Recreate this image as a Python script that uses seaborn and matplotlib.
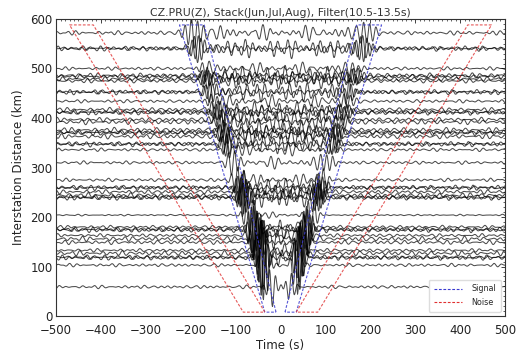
import numpy as np
import pandas as pd
import seaborn as sns
import matplotlib
matplotlib.use("Agg")
import matplotlib.pyplot as plt
from matplotlib.lines import Line2D
from matplotlib.ticker import MultipleLocator

# ---------------- data ----------------
title = "CZ.PRU(Z), Stack(Jun,Jul,Aug), Filter(10.5-13.5s)"
# interstation distances of the traces (km)
dist = [572, 540, 541, 500, 486, 484, 479, 475, 452, 453, 434, 417, 411, 412,
        397, 392, 376, 370, 371, 363, 347, 348, 336, 310, 275, 259, 260, 251,
        244, 239, 240, 204, 180, 174, 175, 163, 156, 149, 133, 127, 118, 119,
        103, 59]
# peak amplitude of the surface-wave packet on each trace (km on the plot)
sig_amp = [28, 24, 20, 12, 16, 14, 15, 14, 18, 16, 14, 16, 18, 16,
           16, 18, 20, 20, 18, 20, 22, 20, 18, 22, 28, 32, 30, 32,
           36, 38, 36, 40, 48, 52, 50, 52, 58, 58, 66, 78, 88, 80,
           60, 40]
# background noise amplitude on each trace (km on the plot)
noise_amp = [2.5, 3.0, 2.5, 2.0, 3.0, 2.5, 2.5, 2.5, 3.0, 2.5, 2.0, 2.5, 3.0, 2.5,
             2.5, 3.0, 3.0, 3.0, 2.5, 3.0, 3.0, 2.5, 2.0, 2.0, 2.0, 3.0, 2.5, 2.5,
             3.0, 3.0, 2.5, 1.0, 2.0, 3.0, 2.5, 2.0, 3.0, 2.5, 2.0, 3.0, 3.0, 2.5,
             2.0, 2.0]
group_velocity = 2.95                 # km/s, arrival of the main packet
signal_period = 14.0                  # s, dominant period of the packets
noise_periods = [13.5, 16.0, 19.0, 23.0]   # s, visible noise wiggles

# windows: edge times (s) at the nearest / farthest distance
win_dist = [8, 588]
sig_near = [10, 35]
sig_far = [170, 225]
noise_near = [35, 83]
noise_far = [417, 470]

t = np.arange(-500, 500.5, 1.0)

# ---------------- build traces ----------------
rows = []
golden = 0.6180339887
for i, (d, a, n) in enumerate(zip(dist, sig_amp, noise_amp)):
    tarr = d / group_velocity
    width = 11 + 0.02 * d
    noise = np.zeros_like(t)
    for k, P in enumerate(noise_periods):
        ph = 2 * np.pi * (((i + 1) * (k + 3) * golden) % 1.0)
        noise += np.cos(2 * np.pi * t / P + ph)
    noise /= np.sqrt(len(noise_periods))
    coda = 1.0 + 2.4 / (1 + np.exp((np.abs(t) - tarr) / 10))
    env_l = np.exp(-((t + tarr) / width) ** 2)
    env_r = np.exp(-((t - tarr) / width) ** 2)
    ph0 = 2 * np.pi * (((i + 1) * golden * 7) % 1.0)
    sig = a * env_l * np.cos(2 * np.pi * (t + tarr) / signal_period + ph0) \
        + 0.85 * a * env_r * np.cos(2 * np.pi * (t - tarr) / signal_period - ph0)
    y = d + sig + n * coda * noise
    rows.append(pd.DataFrame({"t": t, "y": y, "trace": i}))
df = pd.concat(rows, ignore_index=True)


def window(near, far, side):
    xs = [near[0], far[0], far[1], near[1], near[0]]
    ys = [win_dist[0], win_dist[1], win_dist[1], win_dist[0], win_dist[0]]
    return pd.DataFrame({"t": [side * x for x in xs], "y": ys, "part": side})


sig_df = pd.concat([window(sig_near, sig_far, -1), window(sig_near, sig_far, 1)])
noi_df = pd.concat([window(noise_near, noise_far, -1), window(noise_near, noise_far, 1)])

# ---------------- plot ----------------
sns.set_style("white")
plt.rcParams["font.family"] = ["DejaVu Sans"]
fig, ax = plt.subplots(figsize=(5.19, 3.58), dpi=100)
fig.subplots_adjust(left=0.108, right=0.973, top=0.947, bottom=0.117)

sns.lineplot(data=df, x="t", y="y", units="trace", estimator=None, sort=False,
             color="black", lw=0.75, alpha=0.7, ax=ax, legend=False)
sns.lineplot(data=sig_df, x="t", y="y", units="part", estimator=None, sort=False,
             color="#3a3ad0", lw=0.8, ls=(0, (2.5, 1.5)), alpha=0.85, ax=ax, legend=False)
sns.lineplot(data=noi_df, x="t", y="y", units="part", estimator=None, sort=False,
             color="#e03030", lw=0.8, ls=(0, (2.5, 1.5)), alpha=0.8, ax=ax, legend=False)

ax.set_xlim(-500, 500)
ax.set_ylim(0, 600)
ax.xaxis.set_major_locator(MultipleLocator(100))
ax.yaxis.set_major_locator(MultipleLocator(100))
ax.xaxis.set_minor_locator(MultipleLocator(10))
ax.yaxis.set_minor_locator(MultipleLocator(10))
ax.tick_params(which="both", direction="in", top=True, right=True, labelsize=8.5,
               colors="#222222")
ax.tick_params(axis="x", which="major", pad=6)
ax.tick_params(axis="y", which="major", pad=2.5)
ax.tick_params(which="major", length=3, width=0.6)
ax.tick_params(which="minor", length=1.5, width=0.5)
for sp in ax.spines.values():
    sp.set_color("#333333")
    sp.set_linewidth(0.8)

ax.set_xlabel("Time (s)", fontsize=8.5, labelpad=1, color="#222222")
ax.set_ylabel("Interstation Distance (km)", fontsize=8.5, labelpad=4, color="#222222")
ax.set_title(title, fontsize=7.8, pad=2, color="#333333")

handles = [Line2D([0], [0], color="#3a3ad0", lw=0.8, ls=(0, (2.5, 1.5))),
           Line2D([0], [0], color="#e03030", lw=0.8, ls=(0, (2.5, 1.5)))]
ax.legend(handles, ["Signal", "Noise"], loc="lower right", fontsize=5.8,
          handlelength=3.5, frameon=True, framealpha=1, edgecolor="#dddddd",
          borderpad=0.6, labelspacing=0.6, handletextpad=1.2)

fig.savefig("out.png", dpi=100)
